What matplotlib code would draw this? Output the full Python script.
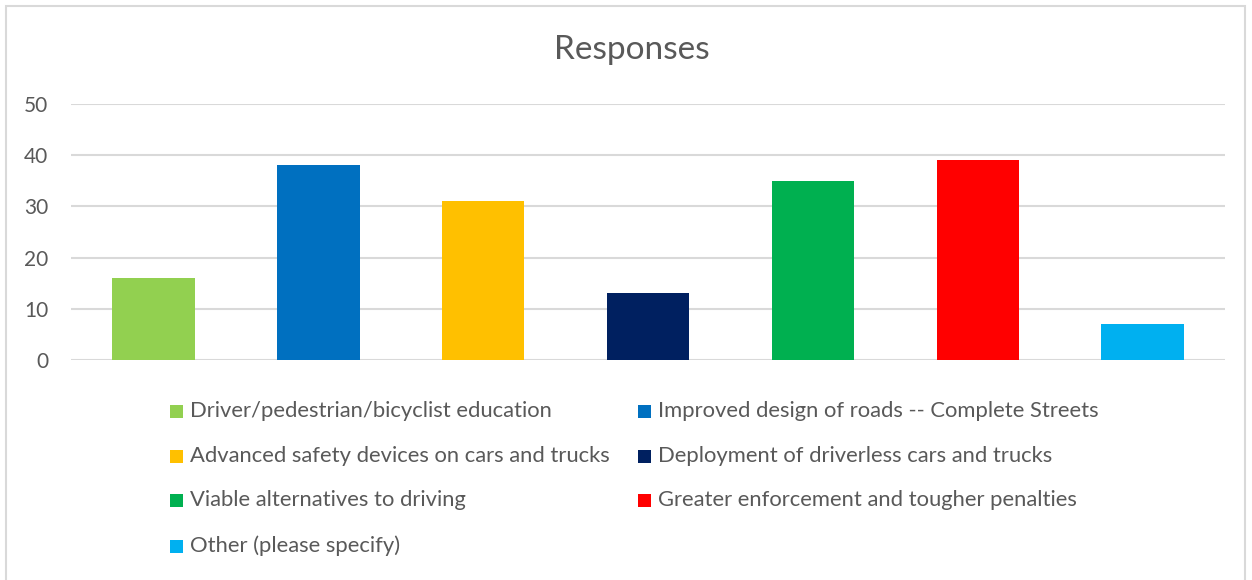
import matplotlib
matplotlib.use("Agg")
import matplotlib.pyplot as plt
from matplotlib.patches import Rectangle

categories = [
    "Driver/pedestrian/bicyclist education",
    "Improved design of roads -- Complete Streets",
    "Advanced safety devices on cars and trucks",
    "Deployment of driverless cars and trucks",
    "Viable alternatives to driving",
    "Greater enforcement and tougher penalties",
    "Other (please specify)",
]
values = [16, 38, 31, 13, 35, 39, 7]
colors = ["#92D050", "#0070C0", "#FFC000", "#002060", "#00B050", "#FF0000", "#00B0F0"]
yticks = [0, 10, 20, 30, 40, 50]

plt.rcParams['font.family'] = ['Lato', 'DejaVu Sans']
W, H = 1252, 580
fig = plt.figure(figsize=(W / 100, H / 100), dpi=100)
fig.patch.set_facecolor("white")

# outer border
fig.add_artist(Rectangle((6 / W, -0.01), (1245 - 6) / W, (H - 6) / H + 0.01,
                         transform=fig.transFigure, fill=False, edgecolor="#D9D9D9", linewidth=1.5))

ax = fig.add_axes([71 / W, 1 - 360 / H, (1225 - 71) / W, (360 - 104) / H])
x = list(range(len(categories)))
ax.bar(x, values, width=0.5, color=colors, zorder=3)
ax.set_xlim(-0.5, len(categories) - 0.5)
ax.set_ylim(0, 50)
ax.set_yticks(yticks)
ax.set_yticklabels([str(v) for v in yticks])
ax.set_xticks([])
ax.grid(axis="y", color="#D9D9D9", linewidth=1.5, zorder=0)
for s in ax.spines.values():
    s.set_visible(False)
ax.tick_params(axis="y", length=0, pad=16.5, labelsize=15, labelcolor="#595959")

fig.text(632 / W, 1 - 50 / H, "Responses", ha="center", va="center", fontsize=24, color="#595959")

# legend laid out in two columns
col_x = [170, 638]
row_y = [411, 456, 500, 546]
sq = 13
for i, (cat, c) in enumerate(zip(categories, colors)):
    cx = col_x[i % 2]
    cy = row_y[i // 2]
    fig.add_artist(Rectangle((cx / W, 1 - (cy + sq / 2) / H), sq / W, sq / H,
                             transform=fig.transFigure, facecolor=c, edgecolor="none"))
    fig.text((cx + 20) / W, 1 - cy / H, cat, ha="left", va="center", fontsize=15.8, color="#595959")

fig.savefig("out.png", dpi=100, facecolor="white")
